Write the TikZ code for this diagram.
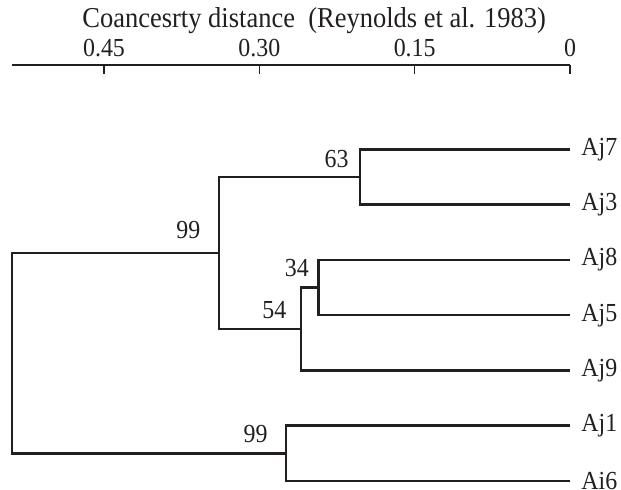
\documentclass[tikz,border=0pt]{standalone}
\usepackage{fontspec}
\setmainfont{Liberation Serif}[FakeStretch=0.92]
\definecolor{ink}{RGB}{35,31,32}
\begin{document}
\begin{tikzpicture}[x=0.5pt,y=-0.5pt,
    branch/.style={line width=1.3pt,ink},
    tick/.style={line width=0.65pt,ink},
    boot/.style={anchor=south east,inner sep=0pt},
    leaf/.style={anchor=west,inner xsep=5.5pt,inner ysep=0pt},
    every node/.style={text=ink,font=\fontsize{13}{15}\selectfont}]
    \useasboundingbox (0,0) rectangle (621,490);

    % distance axis
    \node[anchor=base west,inner sep=0pt,font=\fontsize{14.4}{16}\selectfont] (title) at (82,28)
        {Coancesrty distance\ \ (Reynolds et al. 1983)};
    \draw[tick] (12,65) -- (570,65);
    \foreach \v/\x [count=\i] in {0.45/104,0.30/259.3,0.15/414.7,0/570}{
        \draw[tick] (\x,65) -- (\x,74);
        \node[anchor=base] (tick\i) at (\x,56.7) {\v};
    }

    % leaves
    \node[leaf] (Aj7) at (570,149.3) {Aj7};
    \node[leaf] (Aj3) at (570,204.6) {Aj3};
    \node[leaf] (Aj8) at (570,259.9) {Aj8};
    \node[leaf] (Aj5) at (570,315.2) {Aj5};
    \node[leaf] (Aj9) at (570,370.5) {Aj9};
    \node[leaf] (Aj1) at (570,425.8) {Aj1};
    \node[leaf] (Ai6) at (570,481.1) {Ai6};

    % joins
    \coordinate (c63) at (360,176.95);
    \coordinate (c34) at (318.3,287.55);
    \coordinate (c54) at (301,329);
    \coordinate (c99a) at (219,252.98);
    \coordinate (c99b) at (286,453.45);
    \coordinate (root) at (12,353.2);

    \draw[branch] (Aj7.west) -| (c63) |- (Aj3.west);
    \draw[branch] (Aj8.west) -| (c34) |- (Aj5.west);
    \draw[branch] (c34) -| (c54) |- (Aj9.west);
    \draw[branch] (c63) -| (c99a) |- (c54);
    \draw[branch] (Aj1.west) -| (c99b) |- (Ai6.west);
    \draw[branch] (c99a) -| (root) |- (c99b);

    % bootstrap values
    \node[boot] (b63) at (349,168) {63};
    \node[boot] (b34) at (309.3,276.7) {34};
    \node[boot] (b54) at (286.7,319) {54};
    \node[boot] (b99a) at (200.7,239.3) {99};
    \node[boot] (b99b) at (268,442.7) {99};
\end{tikzpicture}
\end{document}
